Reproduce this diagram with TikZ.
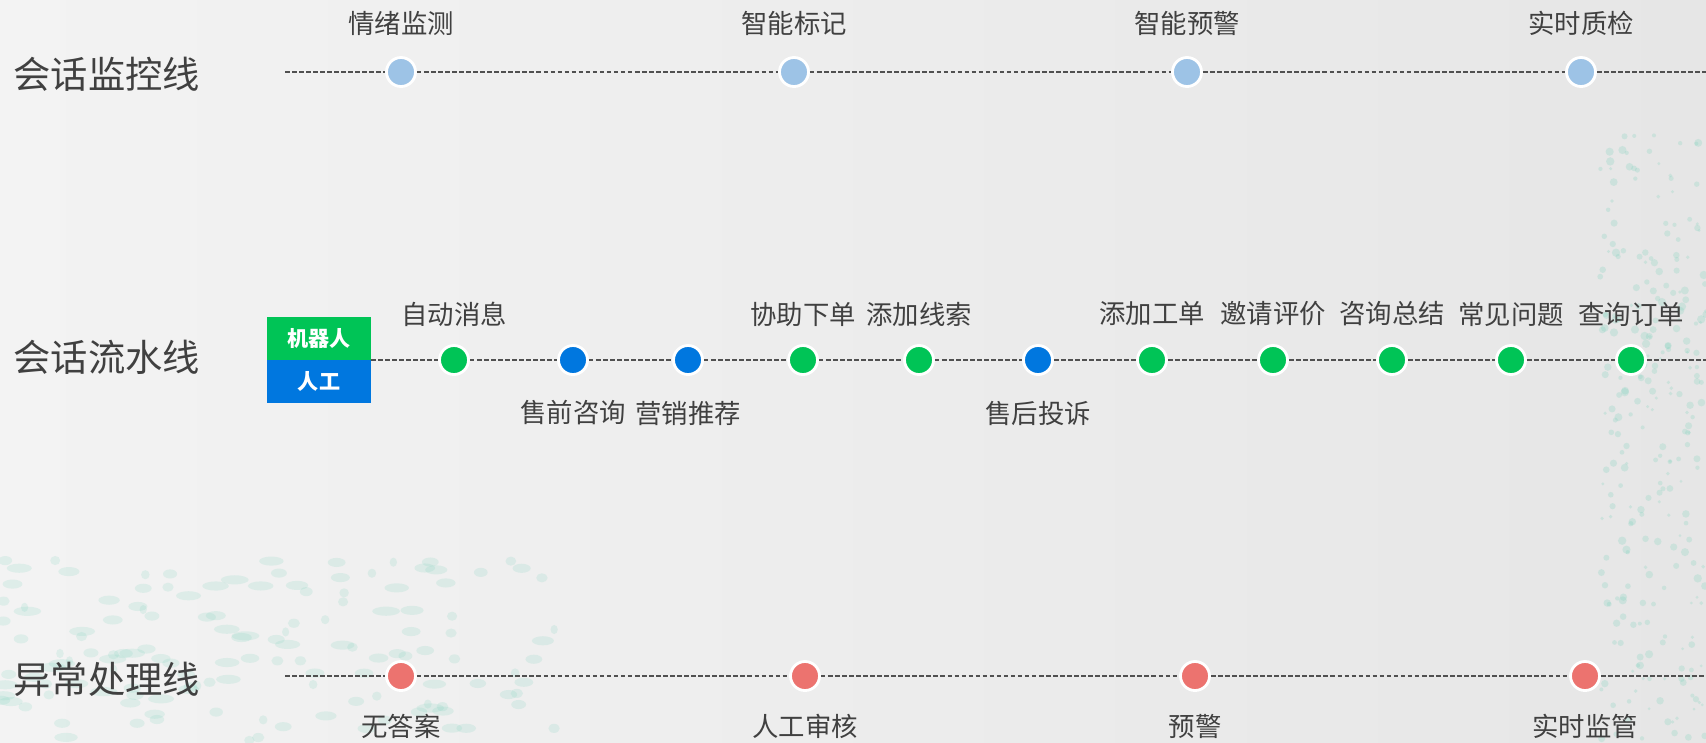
\documentclass[tikz,border=0pt]{standalone}
\usepackage{fontspec}
\setmainfont{Noto Sans CJK SC}
\usetikzlibrary{calc}

\definecolor{textgrau}{HTML}{404040}
\definecolor{liniengrau}{HTML}{505050}
\definecolor{hellblau}{HTML}{9DC3E6}
\definecolor{gruen}{HTML}{00C456}
\definecolor{blau}{HTML}{0077DF}
\definecolor{rot}{HTML}{EC736F}
\definecolor{tuerkis}{HTML}{7FD3BE}
\definecolor{hgLinks}{HTML}{F3F3F3}
\definecolor{hgRechts}{HTML}{E6E6E6}

\begin{document}
\begin{tikzpicture}[x=0.01cm,y=-0.01cm,
  titel/.style={anchor=west,text=textgrau,inner sep=0pt,font=\fontsize{10.6pt}{12pt}\selectfont},
  etikett/.style={text=textgrau,inner sep=0pt,font=\fontsize{7.5pt}{9pt}\selectfont},
  punkt/.style={circle,draw=white,line width=0.8pt,minimum size=0.29cm,inner sep=0pt,fill=#1},
  strich/.style={draw=liniengrau,line width=0.45pt,dash pattern=on 1.3pt off 0.7pt},
  kasten/.style={minimum width=1.04cm,minimum height=0.43cm,inner sep=0pt,text=white,font=\bfseries\fontsize{6pt}{7pt}\selectfont}]

%HINTERGRUND
\shade [left color=hgLinks,right color=hgRechts] (0,0) rectangle (1706,742);
\useasboundingbox (0,0) rectangle (1706,742);
\pgfmathsetseed{11}
\foreach \i in {1,...,140}
  \fill [tuerkis,opacity=0.18] ({rnd*560},{560+rnd*182}) ellipse ({1pt+rnd*3pt} and 1.3pt);
\foreach \i in {1,...,260}
  \fill [tuerkis,opacity=0.25] ({1600+rnd*106},{130+rnd*612}) circle ({0.4pt+rnd*0.8pt});

%ZEILE NR. 0 (von oben)
\node [titel] (t0) at (13,74) {会话监控线};
\coordinate (a0) at (285,72);
\coordinate (e0) at (1706,72);

%PUNKT NR. 0 (von links)
\node [punkt=hellblau] (p00) at (401,72) {};
\node [etikett] (l00) at (401,23) {情绪监测};

%PUNKT NR. 1 (von links)
\node [punkt=hellblau] (p01) at (794,72) {};
\node [etikett] (l01) at (794,23) {智能标记};

%PUNKT NR. 2 (von links)
\node [punkt=hellblau] (p02) at (1187,72) {};
\node [etikett] (l02) at (1187,23) {智能预警};

%PUNKT NR. 3 (von links)
\node [punkt=hellblau] (p03) at (1581,72) {};
\node [etikett] (l03) at (1581,23) {实时质检};

\draw [strich] (a0) -- (p00) (p00) -- (p01) (p01) -- (p02) (p02) -- (p03) (p03) -- (e0);




%ZEILE NR. 1 (von oben)
\node [titel] (t1) at (13,357) {会话流水线};
\node [kasten,fill=gruen] (roboter) at (319,338.5) {机器人};
\node [kasten,fill=blau] (mensch) at (319,381.5) {人工};
\coordinate (a1) at (371,360);
\coordinate (e1) at (1706,360);

%PUNKT NR. 0 (von links)
\node [punkt=gruen] (p10) at (454,360) {};
\node [etikett] (l10) at (454,314) {自动消息};

%PUNKT NR. 1 (von links)
\node [punkt=blau] (p11) at (573,360) {};
\node [etikett] (l11) at (573,413) {售前咨询};

%PUNKT NR. 2 (von links)
\node [punkt=blau] (p12) at (688,360) {};
\node [etikett] (l12) at (688,413) {营销推荐};

%PUNKT NR. 3 (von links)
\node [punkt=gruen] (p13) at (803,360) {};
\node [etikett] (l13) at (803,314) {协助下单};

%PUNKT NR. 4 (von links)
\node [punkt=gruen] (p14) at (919,360) {};
\node [etikett] (l14) at (919,314) {添加线索};

%PUNKT NR. 5 (von links)
\node [punkt=blau] (p15) at (1038,360) {};
\node [etikett] (l15) at (1038,413) {售后投诉};

%PUNKT NR. 6 (von links)
\node [punkt=gruen] (p16) at (1152,360) {};
\node [etikett] (l16) at (1152,314) {添加工单};

%PUNKT NR. 7 (von links)
\node [punkt=gruen] (p17) at (1273,360) {};
\node [etikett] (l17) at (1273,314) {邀请评价};

%PUNKT NR. 8 (von links)
\node [punkt=gruen] (p18) at (1392,360) {};
\node [etikett] (l18) at (1392,314) {咨询总结};

%PUNKT NR. 9 (von links)
\node [punkt=gruen] (p19) at (1511,360) {};
\node [etikett] (l19) at (1511,314) {常见问题};

%PUNKT NR. 10 (von links)
\node [punkt=gruen] (p110) at (1631,360) {};
\node [etikett] (l110) at (1631,314) {查询订单};

\draw [strich] (a1) -- (p10) (p10) -- (p11) (p11) -- (p12) (p12) -- (p13) (p13) -- (p14)
  (p14) -- (p15) (p15) -- (p16) (p16) -- (p17) (p17) -- (p18) (p18) -- (p19)
  (p19) -- (p110) (p110) -- (e1);




%ZEILE NR. 2 (von oben)
\node [titel] (t2) at (13,679) {异常处理线};
\coordinate (a2) at (285,676);
\coordinate (e2) at (1706,676);

%PUNKT NR. 0 (von links)
\node [punkt=rot] (p20) at (401,676) {};
\node [etikett] (l20) at (401,726) {无答案};

%PUNKT NR. 1 (von links)
\node [punkt=rot] (p21) at (805,676) {};
\node [etikett] (l21) at (805,726) {人工审核};

%PUNKT NR. 2 (von links)
\node [punkt=rot] (p22) at (1195,676) {};
\node [etikett] (l22) at (1195,726) {预警};

%PUNKT NR. 3 (von links)
\node [punkt=rot] (p23) at (1585,676) {};
\node [etikett] (l23) at (1585,726) {实时监管};

\draw [strich] (a2) -- (p20) (p20) -- (p21) (p21) -- (p22) (p22) -- (p23) (p23) -- (e2);

\end{tikzpicture}
\end{document}
